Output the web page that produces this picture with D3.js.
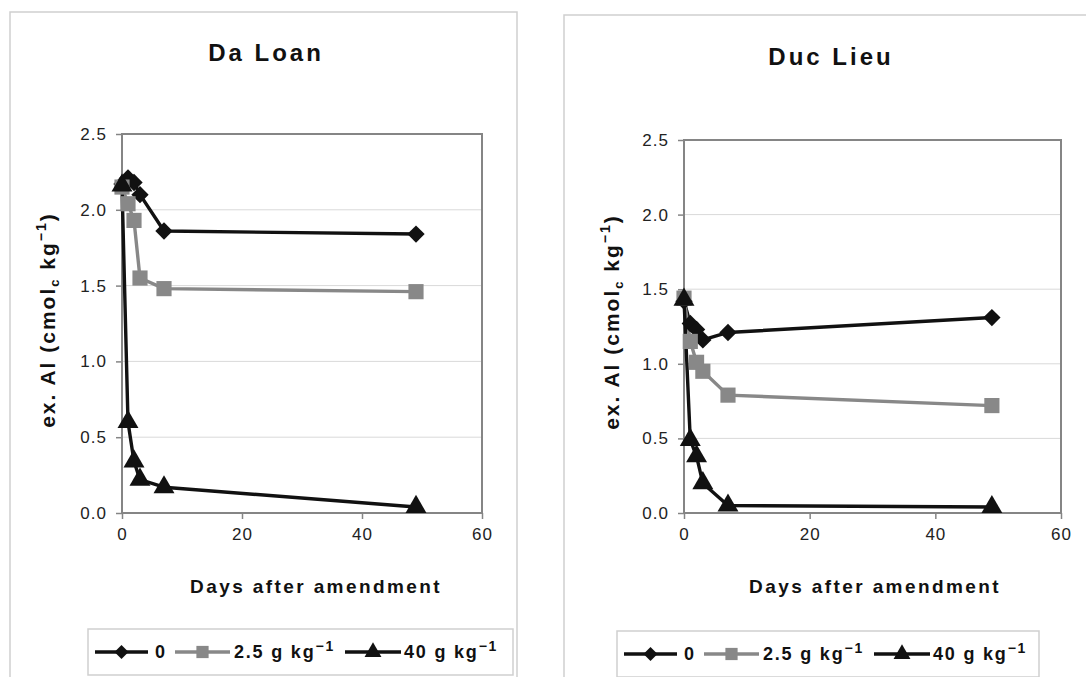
<!DOCTYPE html>
<html>
<head>
<meta charset="utf-8">
<script src="https://cdn.jsdelivr.net/npm/d3@7/dist/d3.min.js"></script>
<style>
  body { margin: 0; background: #fff; }
  svg { display: block; font-family: "Liberation Sans", Arial, sans-serif; }
</style>
</head>
<body>
<svg id="chart" width="1086" height="677"></svg>
<script>
// days after amendment (shared by every series)
const days = [0, 1, 2, 3, 7, 49];

const seriesNames = ['0', '2.5', '40'];

// Da Loan, ex. Al (cmolc kg-1)
const daLoan0 = [2.17, 2.21, 2.18, 2.10, 1.86, 1.84];
const daLoan25 = [2.15, 2.04, 1.93, 1.55, 1.48, 1.46];
const daLoan40 = [2.16, 0.60, 0.34, 0.22, 0.17, 0.04];

// Duc Lieu, ex. Al (cmolc kg-1)
const ducLieu0 = [1.42, 1.27, 1.23, 1.16, 1.21, 1.31];
const ducLieu25 = [1.44, 1.15, 1.01, 0.95, 0.79, 0.72];
const ducLieu40 = [1.43, 0.49, 0.38, 0.20, 0.05, 0.04];

const xTicks = [0, 20, 40, 60];
const yTicks = [0, 0.5, 1.0, 1.5, 2.0, 2.5];

const svg = d3.select('#chart');

// excel style diamond: a square turned 45 degrees
const squareDiamond = {
  draw(context, size) {
    const r = Math.sqrt(size / 2);
    context.moveTo(0, -r);
    context.lineTo(r, 0);
    context.lineTo(0, r);
    context.lineTo(-r, 0);
    context.closePath();
  }
};

const styles = [
  {color: '#111', marker: squareDiamond, size: 150},
  {color: '#888', marker: d3.symbolSquare, size: 230},
  {color: '#111', marker: d3.symbolTriangle, size: 190}
];

function drawPanel(opt) {
  const g = svg.append('g');

  // outer frame of the chart object
  g.append('rect')
    .attr('x', opt.frame[0]).attr('y', opt.frame[1])
    .attr('width', opt.frame[2]).attr('height', opt.frame[3])
    .attr('fill', 'none').attr('stroke', '#cfcfcf').attr('stroke-width', 1.5);

  const x = d3.scaleLinear().domain([0, 60]).range([opt.left, opt.right]);
  const y = d3.scaleLinear().domain([0, 2.5]).range([opt.bottom, opt.top]);

  // gridlines
  g.append('g').selectAll('line')
    .data(yTicks.slice(1))
    .enter().append('line')
    .attr('x1', opt.left).attr('x2', opt.right)
    .attr('y1', (d) => y(d)).attr('y2', (d) => y(d))
    .attr('stroke', '#d9d9d9').attr('stroke-width', 1);

  // plot area border
  g.append('rect')
    .attr('x', opt.left).attr('y', opt.top)
    .attr('width', opt.right - opt.left).attr('height', opt.bottom - opt.top)
    .attr('fill', 'none').attr('stroke', '#858585').attr('stroke-width', 2);

  const xAxis = g.append('g')
    .attr('transform', `translate(0,${opt.bottom})`)
    .call(d3.axisBottom(x).tickValues(xTicks).tickSize(6).tickPadding(9).tickFormat(d3.format('d')));
  const yAxis = g.append('g')
    .attr('transform', `translate(${opt.left},0)`)
    .call(d3.axisLeft(y).tickValues(yTicks).tickSize(6).tickPadding(opt.yPad).tickFormat(d3.format('.1f')));

  [xAxis, yAxis].forEach((a) => {
    a.attr('font-size', 17).attr('font-family', '"Liberation Sans", Arial, sans-serif');
    a.select('.domain').remove();
    a.selectAll('line').attr('stroke', '#858585').attr('stroke-width', 1.5);
    a.selectAll('text').attr('fill', '#222').attr('letter-spacing', 1);
  });

  // title
  g.append('text')
    .attr('x', opt.titleX).attr('y', opt.titleY)
    .attr('text-anchor', 'middle')
    .attr('font-size', 24).attr('font-weight', 'bold')
    .attr('letter-spacing', 3)
    .attr('fill', '#111')
    .text(opt.title);

  // axis titles
  g.append('text')
    .attr('x', opt.xTitleX).attr('y', opt.xTitleY)
    .attr('text-anchor', 'middle')
    .attr('font-size', 19).attr('font-weight', 'bold')
    .attr('letter-spacing', 2.4)
    .attr('fill', '#111')
    .text('Days after amendment');

  const yt = g.append('text')
    .attr('transform', `translate(${opt.yTitleX},${opt.yTitleY}) rotate(-90)`)
    .attr('text-anchor', 'middle')
    .attr('font-size', 21).attr('font-weight', 'bold')
    .attr('letter-spacing', 2)
    .attr('fill', '#111');
  yt.append('tspan').text('ex. Al (cmol');
  yt.append('tspan').attr('font-size', 13).attr('dy', 4).text('c');
  yt.append('tspan').attr('dy', -4).text(' kg');
  yt.append('tspan').attr('font-size', 14).attr('dy', -9).text('\u22121');
  yt.append('tspan').attr('dy', 9).text(')');

  // series lines and markers
  const line = d3.line()
    .x((d, i) => x(days[i]))
    .y((d) => y(d));

  opt.series.forEach((vals, k) => {
    const st = styles[k];
    g.append('path')
      .datum(vals)
      .attr('d', line)
      .attr('fill', 'none')
      .attr('stroke', st.color)
      .attr('stroke-width', 3.4)
      .attr('stroke-linejoin', 'round');
  });
  // markers drawn on top, in series order
  opt.series.forEach((vals, k) => {
    const st = styles[k];
    g.append('g').selectAll('path')
      .data(vals)
      .enter().append('path')
      .attr('d', d3.symbol().type(st.marker).size(st.size))
      .attr('transform', (d, i) => `translate(${x(days[i])},${y(d)})`)
      .attr('fill', st.color);
  });

  // legend
  const lg = g.append('g').attr('transform', `translate(${opt.legend[0]},${opt.legend[1]})`);
  lg.append('rect')
    .attr('x', 0).attr('y', 0)
    .attr('width', opt.legend[2]).attr('height', 46)
    .attr('fill', '#fff').attr('stroke', '#cfcfcf').attr('stroke-width', 1.5);
  const items = [
    {x0: 7, x1: 60, tx: 67, label: seriesNames[0], sup: false},
    {x0: 87, x1: 142, tx: 146, label: seriesNames[1] + ' g kg', sup: true},
    {x0: 257, x1: 313, tx: 316, label: seriesNames[2] + ' g kg', sup: true}
  ];
  items.forEach((it, k) => {
    const st = styles[k];
    lg.append('line')
      .attr('x1', it.x0).attr('x2', it.x1)
      .attr('y1', 23).attr('y2', 23)
      .attr('stroke', st.color).attr('stroke-width', 3.4);
    lg.append('path')
      .attr('d', d3.symbol().type(st.marker).size(st.size * 0.65))
      .attr('transform', `translate(${(it.x0 + it.x1) / 2},23)`)
      .attr('fill', st.color);
    const t = lg.append('text')
      .attr('x', it.tx).attr('y', 29)
      .attr('font-size', 18).attr('font-weight', 'bold')
      .attr('letter-spacing', 1.8)
      .attr('fill', '#111');
    t.append('tspan').text(it.label);
    if (it.sup) {
      t.append('tspan').attr('font-size', 14).attr('dy', -7).text('\u22121');
    }
  });
}

drawPanel({
  title: 'Da Loan',
  frame: [10, 12, 507, 700],
  left: 122, right: 482, top: 134, bottom: 513,
  yPad: 9,
  titleX: 266, titleY: 61,
  xTitleX: 316, xTitleY: 593,
  yTitleX: 55, yTitleY: 320,
  legend: [88, 629, 425],
  series: [daLoan0, daLoan25, daLoan40]
});

drawPanel({
  title: 'Duc Lieu',
  frame: [564, 15, 560, 700],
  left: 684, right: 1061, top: 140, bottom: 513,
  yPad: 9,
  titleX: 831, titleY: 65,
  xTitleX: 875, xTitleY: 593,
  yTitleX: 619, yTitleY: 322,
  legend: [617, 631, 422],
  series: [ducLieu0, ducLieu25, ducLieu40]
});
</script>
</body>
</html>
